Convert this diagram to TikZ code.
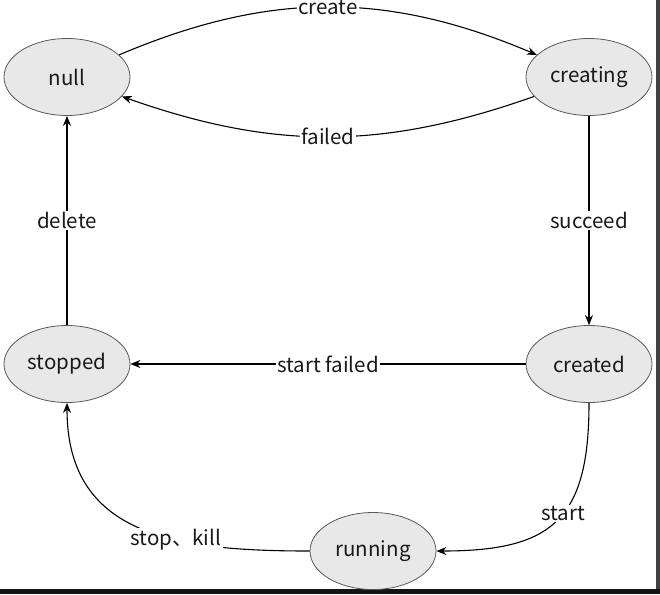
\documentclass[tikz,border=0pt]{standalone}
\usepackage{fontspec}
\setmainfont{Noto Sans CJK SC}
\usetikzlibrary{arrows.meta,shapes.geometric}

\begin{document}
\begin{tikzpicture}
  [x=1pt,y=1pt,>={Stealth[length=10pt,width=8pt]},line width=1.1pt,
   every node/.style={font=\fontsize{20.5}{24}\selectfont,text=black!90},
   state/.style={ellipse,draw=black!65,line width=0.8pt,fill=black!9,
     minimum width=126pt,minimum height=77pt,inner sep=0pt},
   lbl/.style={fill=white,inner sep=1.5pt}]
  \useasboundingbox (0,0) rectangle (660,-594);
  \fill[black!75] (656,0) rectangle (660,-589);
  \fill[black!92] (0,-589) rectangle (660,-594);

  \node[state] (null) at (67,-77) {null};
  \node[state] (creating) at (589,-77) {creating};
  \node[state] (stopped) at (67,-364) {stopped};
  \node[state] (created) at (589,-364) {created};
  \node[state] (running) at (373,-551) {running};

  \draw[->] (null) to[bend left=23] node[lbl] {create} (creating);
  \draw[->] (creating) to[bend left=19.5] node[lbl] {failed} (null);
  \foreach \from/\to/\txt in {creating/created/succeed,created/stopped/start failed,stopped/null/delete}
    \draw[->] (\from) -- node[lbl] {\txt} (\to);
  \draw[->] (created) to[out=-90,in=0,looseness=1.4] node[lbl,pos=.45] {start} (running);
  \draw[->] (running) to[out=180,in=-90,looseness=1.2] node[lbl,pos=.37] {stop、kill} (stopped);
\end{tikzpicture}
\end{document}
